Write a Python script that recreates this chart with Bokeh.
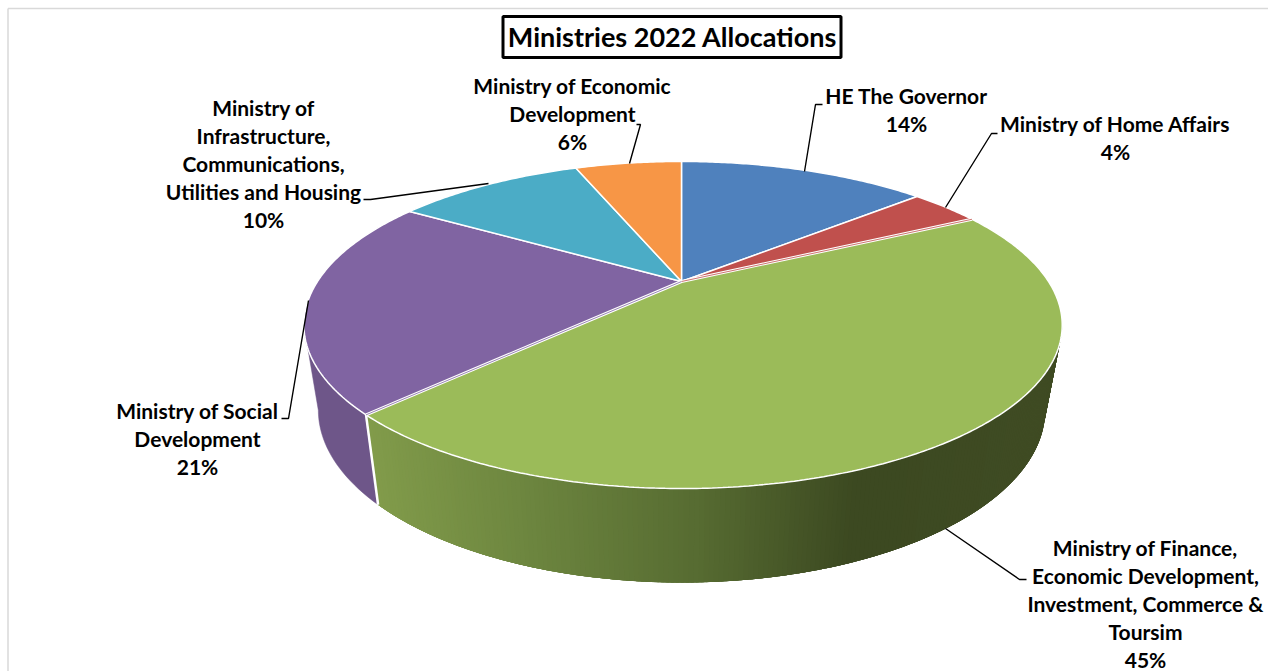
import numpy as np
from bokeh.plotting import figure
from bokeh.embed import file_html
from bokeh.resources import INLINE
from bokeh.core.properties import value

categories = ["HE The Governor", "Ministry of Home Affairs",
              "Ministry of Finance, Economic Development, Investment, Commerce & Tourism",
              "Ministry of Social Development",
              "Ministry of Infrastructure, Communications, Utilities and Housing",
              "Ministry of Economic Development"]
shares = [13.6, 3.8, 45.0, 21.4, 10.3, 5.9]
colors = ["#4F81BD", "#C0504D", "#9BBB59", "#8064A2", "#4BACC6", "#F79646"]
pct_labels = ["14%", "4%", "45%", "21%", "10%", "6%"]
label_lines = [
    ["HE The Governor"],
    ["Ministry of Home Affairs"],
    ["Ministry of Finance,", "Economic Development,", "Investment, Commerce &", "Toursim"],
    ["Ministry of Social", "Development"],
    ["Ministry of", "Infrastructure,", "Communications,", "Utilities and Housing"],
    ["Ministry of Economic", "Development"],
]
label_x = [906, 1115, 1145, 197, 263, 572]
label_y0 = [95, 123, 547, 410, 107, 85]
leaders = [
    ([804, 815, 822], [171, 104, 104]),
    ([945, 991, 997], [207, 133, 133]),
    ([945, 1019, 1026], [528, 579, 579]),
    ([308, 288, 281], [300, 418, 418]),
    ([488, 370, 363], [183, 199, 199]),
    ([629, 640, 636], [163, 124, 124]),
]
title = "Ministries 2022 Allocations"

W, H = 1268, 671
p = figure(width=W, height=H, x_range=(0, W), y_range=(H, 0), output_backend="svg",
           toolbar_location=None, min_border=0,
           x_axis_type=None, y_axis_type=None, background_fill_color="white",
           border_fill_color="white", outline_line_color=None)
p.grid.visible = False

K, A, C_L, C_R = -0.266, 77.2, 364.0, 367.0
CX, CY, EY = 681.0, 281.0, 325.0


def top(t):
    t = np.asarray(t, dtype=float)
    th = 2 * np.pi * t
    u, v = np.sin(th), -np.cos(th)
    w = 1 + K * v
    return CX + np.where(u > 0, C_R, C_L) * u / w, (CY + A * v) / w


def low(t):
    x, y = top(t)
    return 683 + (x - 683) * np.where(x > 683, 0.955, 0.962), 410 + (y - EY) * 172 / 163


def hexmix(x):
    xs = [366, 520, 700, 860, 1060]
    rs = [0x82, 0x6E, 0x57, 0x3C, 0x40]
    gs = [0x9C, 0x87, 0x6C, 0x49, 0x4C]
    bs = [0x4B, 0x40, 0x32, 0x21, 0x24]
    return "#%02x%02x%02x" % (int(np.interp(x, xs, rs)), int(np.interp(x, xs, gs)), int(np.interp(x, xs, bs)))


# chart border
p.line([7.5, 7.5], [8, 671], line_color="#D9D9D9", line_width=1.5)
p.line([7.5, 1268], [8, 8], line_color="#D9D9D9", line_width=1.5)

edges = np.cumsum([0] + shares) / sum(shares)
FIN_END = edges[3]
SIL = 0.293

# side wall: social first, then finance strips, each overlapping the next seam
ts = np.linspace(FIN_END, 1 - SIL, 24)
xa, ya = top(ts)
qa, ra = low(ts)
p.patch(list(xa) + list(qa[::-1]), list(ya) + list(ra[::-1]), fill_color="#6E5689", line_color="#6E5689", line_width=0.5)

ts = np.linspace(SIL, FIN_END, 200)
for a, b in zip(ts[:-1], ts[1:]):
    seg = np.linspace(a, FIN_END if b + 0.006 > FIN_END else b + 0.006, 4)
    x, y = top(seg)
    q, r = low(seg)
    c = hexmix(float(x[0]))
    p.patch(list(x) + list(q[::-1]), list(y) + list(r[::-1]), fill_color=c, line_color=None)

(x0, y0), (x1, y1) = top(FIN_END), low(FIN_END)
p.line([float(x0), float(x1)], [float(y0), float(y1)], line_color="white", line_width=2.5)

# top surface
for i, col in enumerate(colors):
    n = max(4, int(shares[i] * 6))
    t = np.linspace(edges[i], edges[i + 1], n)
    x, y = top(t)
    p.patch(list(x) + [CX], list(y) + [CY], fill_color=col, line_color="white", line_width=1.5)

# the finance slice stands slightly apart from its neighbours: a double seam on both edges
for t_edge, seam in ((edges[2], colors[1]), (edges[3], colors[3])):
    ex, ey = top(t_edge)
    p.line([CX, float(ex)], [CY, float(ey)], line_color="white", line_width=3)
    p.line([CX, float(ex)], [CY, float(ey)], line_color=seam, line_width=0.8)

# leaders
for lx, ly in leaders:
    p.line(lx, ly, line_color="black", line_width=1.4)

# labels
LH = 28
for lines, pct, x, y0 in zip(label_lines, pct_labels, label_x, label_y0):
    rows = lines + [pct]
    p.text([x] * len(rows), [y0 + LH * j for j in range(len(rows))], text=rows,
           text_align="center", text_baseline="middle", text_color="black",
           text_font=value("Lato"), text_font_style="bold", text_font_size="21px")

# title
p.quad(left=[502.5], right=[840.5], top=[16], bottom=[57], fill_color="white",
       line_color="black", line_width=3)
p.text([672], [36], text=[title], text_align="center", text_baseline="middle", text_color="black",
       text_font=value("Lato"), text_font_style="bold", text_font_size="27px")

open("out.html", "w").write(file_html(p, INLINE))
